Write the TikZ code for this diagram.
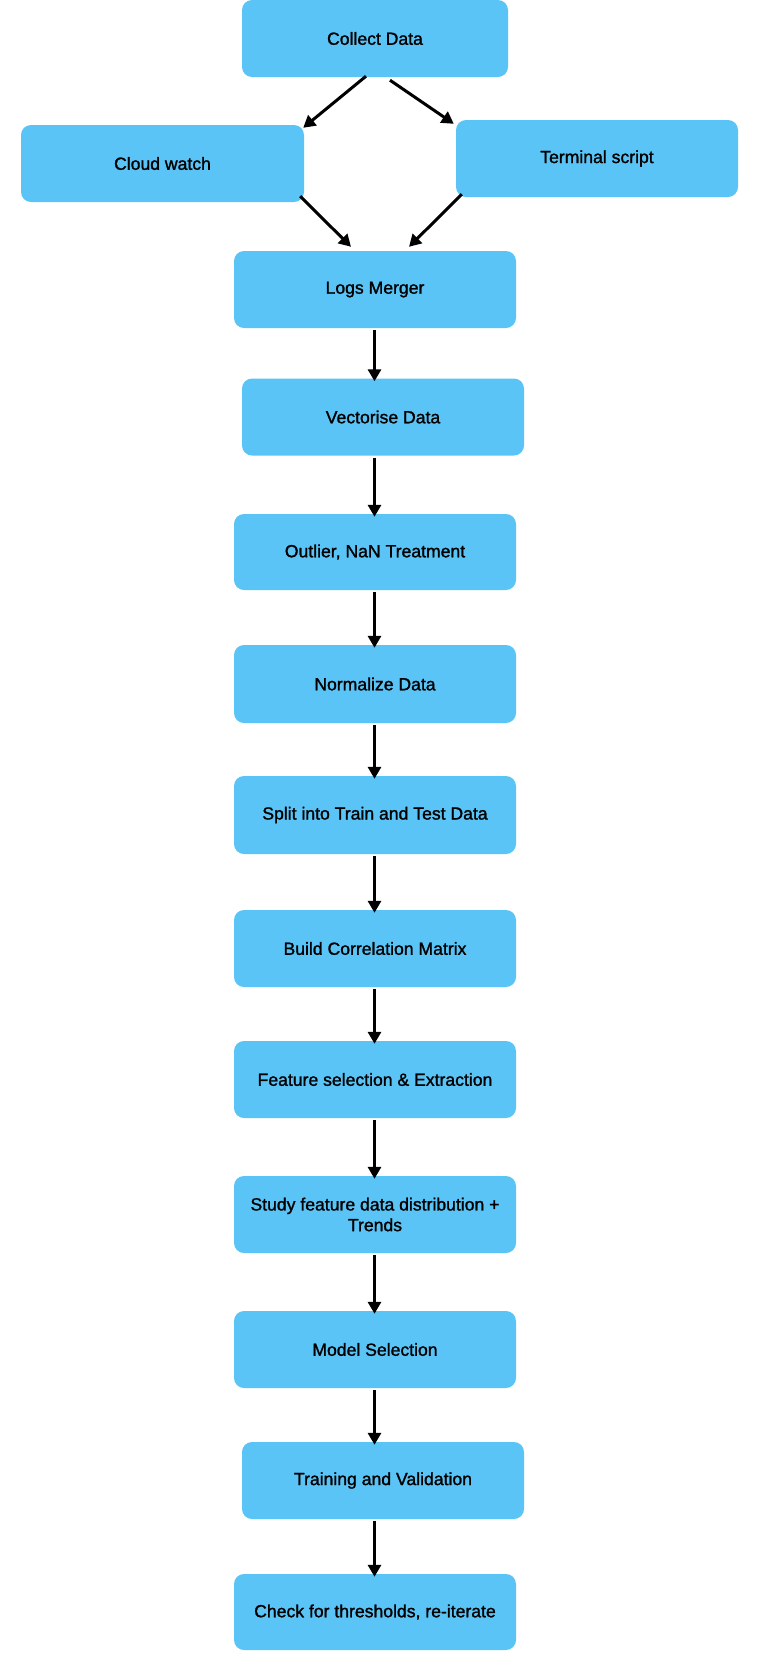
\documentclass[tikz,border=0pt]{standalone}
\usepackage{fontspec}
\setmainfont{Liberation Sans}
\newfontfamily\boxfont[FakeBold=1.3]{Liberation Sans}
\usetikzlibrary{arrows.meta,calc}
\definecolor{boxblue}{HTML}{5BC4F6}
\tikzset{
  stepbox/.style={draw=none, fill=boxblue, rounded corners=10pt, inner sep=0pt,
    minimum width=282pt, minimum height=77pt, align=center,
    font=\boxfont\fontsize{17.6}{20.7}\selectfont, text=black},
  flow/.style={line width=3pt, draw=black, -{Triangle[length=12pt,width=13pt]}}
}
\begin{document}
\begin{tikzpicture}[x=1pt,y=-1pt]
\useasboundingbox (0,0) rectangle (760,1666);
\node[stepbox, minimum width=266pt] (collect) at (375,38.5) {Collect Data};
\node[stepbox, minimum width=283pt] (cloud) at (162.5,163.5) {Cloud watch};
\node[stepbox] (term) at (597,158.5) {Terminal script};
\node[stepbox] (logs) at (375,289.5) {Logs Merger};
\node[stepbox] (vec) at (383,417) {Vectorise Data};
\node[stepbox, minimum height=76pt] (outl) at (375,552) {Outlier, NaN Treatment};
\node[stepbox, minimum height=78pt] (norm) at (375,684) {Normalize Data};
\node[stepbox, minimum height=78pt] (split) at (375,815) {Split into Train and Test Data};
\node[stepbox] (build) at (375,948.5) {Build Correlation Matrix};
\node[stepbox] (feat) at (375,1079.5) {Feature selection \& Extraction};
\node[stepbox] (study) at (375,1214.5) {Study feature data distribution +\\Trends};
\node[stepbox] (model) at (375,1349.5) {Model Selection};
\node[stepbox] (train) at (383,1480.5) {Training and Validation};
\node[stepbox, minimum height=76pt] (check) at (375,1612) {Check for thresholds, re-iterate};
\coordinate (ax) at (374.5,0);
% diagonal connectors
\draw[flow] ($(collect.south)+(-9,-1)$) -- ($(cloud.north east)+(-1,3)$);
\draw[flow] ($(collect.south)+(15,3)$) -- ($(term.north west)+(-2,4)$);
\draw[flow] ($(cloud.south east)+(-4,-6)$) -- ($(logs.north)+(-24,-4)$);
\draw[flow] ($(term.south west)+(6,-3)$) -- ($(logs.north)+(34,-4)$);
% vertical connectors
\foreach \a/\b in {logs/vec, vec/outl, outl/norm, norm/split, split/build, build/feat, feat/study, study/model, model/train, train/check}{
  \draw[flow] ($(\a.south -| ax)+(0,2)$) -- ($(\b.north -| ax)+(0,3)$);
}
\end{tikzpicture}
\end{document}
